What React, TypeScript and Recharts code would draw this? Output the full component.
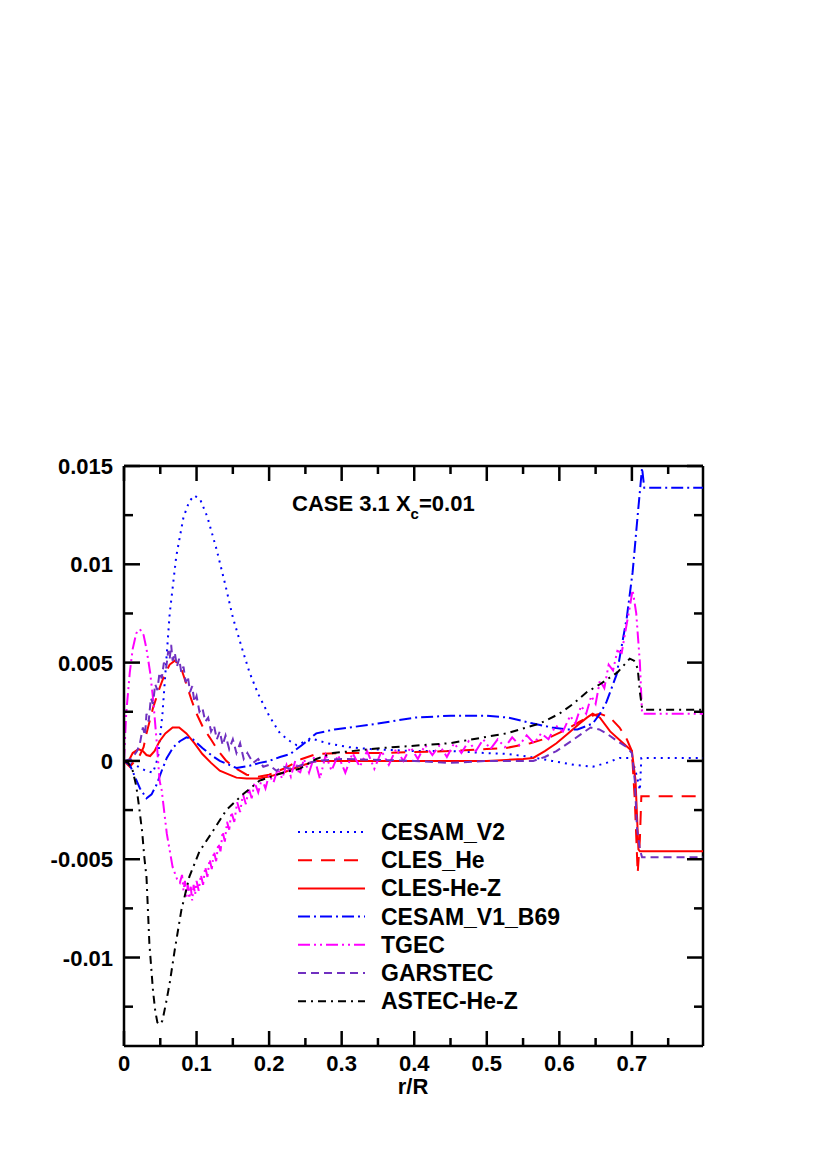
import React from "react";
import { LineChart, Line, XAxis, YAxis, ReferenceLine } from "recharts";

// r/R values for the ticks (minor every 0.05, labelled every 0.1)
const xTicks = [0, 0.05, 0.1, 0.15, 0.2, 0.25, 0.3, 0.35, 0.4, 0.45, 0.5, 0.55, 0.6, 0.65, 0.7, 0.75];
const xTickLabels = ["0", "", "0.1", "", "0.2", "", "0.3", "", "0.4", "", "0.5", "", "0.6", "", "0.7", ""];
const yTicks = [-0.0125, -0.01, -0.0075, -0.005, -0.0025, 0, 0.0025, 0.005, 0.0075, 0.01, 0.0125, 0.015];
const yTickLabels = ["", "-0.01", "", "-0.005", "", "0", "", "0.005", "", "0.01", "", "0.015"];

const X_MAX = 0.798;
const Y_MIN = -0.0145;
const Y_MAX = 0.015;

// series as [r/R, value]
const cesamV2 = [
  [0, 0], [0.015, -0.0002], [0.03, -0.0005], [0.04, -0.0006], [0.047, 0.0002], [0.053, 0.0024],
  [0.063, 0.0075], [0.072, 0.0104], [0.082, 0.0124], [0.09, 0.0132], [0.097, 0.0135], [0.105, 0.0133],
  [0.115, 0.0124], [0.128, 0.0107], [0.14, 0.0089], [0.15, 0.0073], [0.162, 0.0058], [0.173, 0.0045],
  [0.185, 0.0034], [0.2, 0.0023], [0.215, 0.0014], [0.229, 0.001], [0.238, 0.0008], [0.25, 0.001],
  [0.262, 0.0011], [0.28, 0.0009], [0.31, 0.0007], [0.34, 0.0006], [0.4, 0.0005], [0.45, 0.0005],
  [0.5, 0.0004], [0.53, 0.00035], [0.56, 0.0002], [0.59, 0.0], [0.62, -0.0002], [0.646, -0.0003],
  [0.665, -0.0001], [0.683, 0.00015], [0.7, 0.00015], [0.707, -0.0008], [0.711, -0.0015],
  [0.713, 0.00015], [0.798, 0.00015],
];

const clesHe = [
  [0, 0], [0.008, -0.0003], [0.015, 0.0], [0.022, 0.0003], [0.027, 0.0007], [0.031, 0.0014],
  [0.04, 0.0027], [0.049, 0.0037], [0.056, 0.0044], [0.063, 0.0049], [0.07, 0.0051], [0.078, 0.0048],
  [0.086, 0.0039], [0.093, 0.0031], [0.1, 0.0024], [0.109, 0.0017], [0.118, 0.0012], [0.13, 0.0005],
  [0.141, 0.0], [0.155, -0.0004], [0.169, -0.0007], [0.185, -0.0008], [0.2, -0.0007], [0.22, -0.0004],
  [0.245, 0.0001], [0.265, 0.00035], [0.3, 0.0004], [0.35, 0.0004], [0.45, 0.0005], [0.5, 0.0006],
  [0.527, 0.00066], [0.56, 0.0009], [0.587, 0.0012], [0.61, 0.0016], [0.628, 0.002], [0.645, 0.0023],
  [0.656, 0.0024], [0.67, 0.0022], [0.683, 0.0017], [0.693, 0.0011], [0.7, 0.0005], [0.704, -0.002],
  [0.708, -0.0057], [0.711, -0.004], [0.713, -0.0018], [0.798, -0.0018],
];

const clesHeZ = [
  [0, 0], [0.005, -0.0001], [0.012, 0.0004], [0.02, 0.0006], [0.026, 0.0005], [0.031, 0.0003],
  [0.036, 0.00025], [0.042, 0.0005], [0.049, 0.001], [0.057, 0.0014], [0.067, 0.0017], [0.076, 0.0017],
  [0.086, 0.0014], [0.097, 0.0009], [0.108, 0.00035], [0.12, -0.0001], [0.132, -0.0005], [0.145, -0.0007],
  [0.155, -0.00085], [0.169, -0.0009], [0.185, -0.0009], [0.2, -0.0008], [0.219, -0.0006], [0.24, -0.0003],
  [0.265, 0.0], [0.3, 0.0], [0.4, 0.0], [0.5, 0.0], [0.527, 0.00005], [0.55, 0.0001], [0.564, 0.00015],
  [0.58, 0.0005], [0.596, 0.0009], [0.612, 0.0014], [0.628, 0.0019], [0.638, 0.0022], [0.646, 0.0024],
  [0.656, 0.0022], [0.67, 0.0015], [0.685, 0.001], [0.7, 0.0005], [0.705, -0.001], [0.709, -0.0045],
  [0.711, -0.0046], [0.798, -0.0046],
];

const cesamV1B69 = [
  [0, 0], [0.008, -0.0002], [0.015, -0.0008], [0.022, -0.0014], [0.031, -0.0019], [0.038, -0.0017],
  [0.045, -0.0012], [0.052, -0.0005], [0.059, 0.00015], [0.068, 0.0007], [0.077, 0.001], [0.086, 0.0012],
  [0.095, 0.0011], [0.108, 0.00066], [0.12, 0.0003], [0.132, 0.0], [0.145, -0.0002], [0.155, -0.00036],
  [0.165, -0.0003], [0.173, -0.00025], [0.187, -0.0001], [0.2, 0.0], [0.215, 0.0002], [0.229, 0.00035],
  [0.245, 0.0008], [0.265, 0.0014], [0.29, 0.0016], [0.311, 0.0017], [0.35, 0.0019], [0.4, 0.0022],
  [0.45, 0.0023], [0.5, 0.0023], [0.53, 0.0022], [0.564, 0.0019], [0.59, 0.0017], [0.61, 0.0016],
  [0.625, 0.0016], [0.646, 0.0019], [0.656, 0.0024], [0.665, 0.003], [0.679, 0.0044], [0.693, 0.0073],
  [0.701, 0.0096], [0.708, 0.0125], [0.714, 0.0149], [0.717, 0.0139], [0.798, 0.0139],
];

const tgec = [
  [0, 0], [0.003, 0.0024], [0.008, 0.0045], [0.012, 0.0057], [0.017, 0.0065], [0.022, 0.0067],
  [0.027, 0.0064], [0.031, 0.0057], [0.036, 0.0045], [0.04, 0.0032], [0.045, 0.001], [0.049, -0.001],
  [0.052, -0.0015], [0.059, -0.0037], [0.067, -0.0054], [0.073, -0.006], [0.077, -0.0062],
  [0.08, -0.0058], [0.082, -0.0066], [0.084, -0.0061], [0.086, -0.0069], [0.088, -0.0063], [0.09, -0.007],
  [0.092, -0.0064], [0.094, -0.0071], [0.096, -0.0063], [0.098, -0.0068], [0.1, -0.0061], [0.103, -0.0066],
  [0.106, -0.0058], [0.109, -0.0063], [0.112, -0.0054], [0.115, -0.0059], [0.118, -0.005], [0.121, -0.0055],
  [0.124, -0.0046], [0.127, -0.0051], [0.13, -0.0042], [0.133, -0.0046], [0.136, -0.0036], [0.139, -0.0041],
  [0.142, -0.0031], [0.145, -0.0035], [0.148, -0.0026], [0.152, -0.0031], [0.156, -0.0021], [0.16, -0.0026],
  [0.164, -0.0017], [0.168, -0.0022], [0.172, -0.0014], [0.176, -0.0019], [0.18, -0.0011], [0.185, -0.0016],
  [0.19, -0.0009], [0.195, -0.0014], [0.2, -0.0007], [0.206, -0.0011], [0.212, -0.0004], [0.218, -0.0009],
  [0.224, -0.0002], [0.23, -0.0008], [0.236, 0.0], [0.242, -0.0007], [0.248, 0.0001], [0.255, -0.0006],
  [0.262, 0.0002], [0.27, -0.0009], [0.278, 0.0003], [0.286, -0.0005], [0.295, 0.0003], [0.305, -0.0006],
  [0.315, 0.0004], [0.325, -0.0003], [0.335, 0.0005], [0.345, -0.0004], [0.355, 0.0005], [0.365, -0.0002],
  [0.375, 0.0006], [0.385, 0.0], [0.395, 0.0007], [0.405, 0.0001], [0.415, 0.0008], [0.425, 0.0003],
  [0.435, 0.0008], [0.445, 0.0002], [0.455, 0.0009], [0.465, 0.0004], [0.475, 0.001], [0.485, 0.0005],
  [0.495, 0.0011], [0.505, 0.0006], [0.515, 0.0011], [0.525, 0.0007], [0.535, 0.0012], [0.545, 0.0008],
  [0.555, 0.0013], [0.565, 0.0009], [0.575, 0.0014], [0.585, 0.0011], [0.595, 0.0018], [0.605, 0.0015],
  [0.615, 0.0023], [0.622, 0.0019], [0.63, 0.0028], [0.637, 0.0024], [0.644, 0.0033], [0.65, 0.0029],
  [0.656, 0.0041], [0.662, 0.0037], [0.668, 0.0049], [0.674, 0.0046], [0.68, 0.0056], [0.686, 0.0055],
  [0.692, 0.0068], [0.697, 0.0078], [0.701, 0.0087], [0.706, 0.0075], [0.711, 0.005], [0.714, 0.0024],
  [0.798, 0.0024],
];

const garstec = [
  [0, 0], [0.01, 0.0001], [0.018, 0.0005], [0.022, 0.0009], [0.026, 0.0017], [0.029, 0.0013],
  [0.031, 0.0024], [0.034, 0.002], [0.037, 0.0032], [0.04, 0.0029], [0.043, 0.0039], [0.046, 0.0036],
  [0.049, 0.0045], [0.052, 0.0042], [0.055, 0.005], [0.058, 0.0047], [0.061, 0.0056], [0.063, 0.0052],
  [0.065, 0.0059], [0.067, 0.0051], [0.07, 0.0055], [0.073, 0.0048], [0.076, 0.0052], [0.079, 0.0045],
  [0.082, 0.0048], [0.085, 0.004], [0.088, 0.0043], [0.091, 0.0035], [0.094, 0.0038], [0.097, 0.003],
  [0.1, 0.0033], [0.104, 0.0025], [0.108, 0.0027], [0.112, 0.002], [0.116, 0.0022], [0.12, 0.0015],
  [0.124, 0.0018], [0.128, 0.0011], [0.132, 0.0015], [0.136, 0.0008], [0.14, 0.0013], [0.145, 0.0006],
  [0.15, 0.0011], [0.155, 0.0004], [0.16, 0.0009], [0.165, 0.0001], [0.17, 0.0004], [0.178, -0.0001],
  [0.185, 0.0001], [0.192, -0.0003], [0.2, -0.0002], [0.21, -0.0005], [0.22, -0.0003], [0.229, -0.0004],
  [0.245, -0.0002], [0.265, 0.0], [0.3, 0.0001], [0.4, 0.0], [0.45, -0.0001], [0.5, 0.0], [0.564, 0.0],
  [0.58, 0.0002], [0.596, 0.0005], [0.62, 0.0011], [0.643, 0.0017], [0.655, 0.0016], [0.665, 0.0014],
  [0.68, 0.001], [0.693, 0.0007], [0.7, 0.0004], [0.704, -0.001], [0.707, -0.0034], [0.711, -0.0045],
  [0.714, -0.0049], [0.798, -0.0049],
];

const astecHeZ = [
  [0, 0], [0.006, -0.0001], [0.012, -0.0005], [0.017, -0.0013], [0.021, -0.0024], [0.025, -0.0036],
  [0.028, -0.0049], [0.031, -0.0059], [0.035, -0.0093], [0.04, -0.0117], [0.043, -0.0127], [0.046, -0.0133],
  [0.05, -0.0134], [0.053, -0.0132], [0.058, -0.0123], [0.063, -0.0113], [0.07, -0.0096], [0.079, -0.0076],
  [0.09, -0.0059], [0.104, -0.0046], [0.122, -0.0036], [0.141, -0.0025], [0.164, -0.0017], [0.187, -0.001],
  [0.219, -0.0006], [0.242, -0.0004], [0.265, 0.0001], [0.288, 0.0004], [0.357, 0.00066], [0.449, 0.0009],
  [0.527, 0.0014], [0.573, 0.0019], [0.6, 0.0024], [0.619, 0.0029], [0.638, 0.0035], [0.656, 0.0039],
  [0.68, 0.0045], [0.697, 0.0052], [0.703, 0.0051], [0.708, 0.0047], [0.711, 0.0035], [0.714, 0.0027],
  [0.718, 0.0026], [0.798, 0.0026],
];

const toPoints = (rows: number[][]) => rows.map(([x, y]) => ({ x, y }));

const series = [
  { name: "CESAM_V2", rows: cesamV2, color: "#0000ff", dash: "2 5" },
  { name: "CLES_He", rows: clesHe, color: "#ff0000", dash: "14 9" },
  { name: "CLES-He-Z", rows: clesHeZ, color: "#ff0000", dash: undefined },
  { name: "CESAM_V1_B69", rows: cesamV1B69, color: "#0000ff", dash: "12 4 2 4" },
  { name: "TGEC", rows: tgec, color: "#ff00ff", dash: "12 4 2 4 2 4" },
  { name: "GARSTEC", rows: garstec, color: "#7030c0", dash: "8 5" },
  { name: "ASTEC-He-Z", rows: astecHeZ, color: "#000000", dash: "8 5 2 5" },
];

// layout (chart is offset by the 8px body margin)
const W = 810;
const H = 1140;
const PLOT_LEFT = 116;
const PLOT_TOP = 458;
const PLOT_RIGHT = 695;
const FONT = "'Liberation Sans', Arial, Helvetica, sans-serif";

const XTick = (props: any) => {
  const { x, y, index } = props;
  const label = xTickLabels[index];
  const len = label ? 15 : 8;
  return (
    <g>
      <line x1={x} y1={y} x2={x} y2={y - len} stroke="#000" strokeWidth={2.5} />
      <line x1={x} y1={PLOT_TOP} x2={x} y2={PLOT_TOP + len} stroke="#000" strokeWidth={2.5} />
      {label && (
        <text x={x} y={y + 25} textAnchor="middle" fontSize={22} fontWeight="bold" fontFamily={FONT} fill="#000">
          {label}
        </text>
      )}
    </g>
  );
};

const YTick = (props: any) => {
  const { x, y, index } = props;
  const label = yTickLabels[index];
  const len = label ? 16 : 9;
  return (
    <g>
      <line x1={x} y1={y} x2={x + len} y2={y} stroke="#000" strokeWidth={2.5} />
      <line x1={PLOT_RIGHT - len} y1={y} x2={PLOT_RIGHT} y2={y} stroke="#000" strokeWidth={2.5} />
      {label && (
        <text x={x - 11} y={y + 8} textAnchor="end" fontSize={22} fontWeight="bold" fontFamily={FONT} fill="#000">
          {label}
        </text>
      )}
    </g>
  );
};

const Legend = () => (
  <svg width={W} height={H} style={{ position: "absolute", left: 0, top: 0, pointerEvents: "none" }}>
    <text x={284} y={503} fontSize={22} fontWeight="bold" fontFamily={FONT} fill="#000">
      CASE 3.1 X
      <tspan fontSize={15} dy={8}>c</tspan>
      <tspan dy={-8}>=0.01</tspan>
    </text>
    {series.map((s, i) => {
      const cy = 824 + i * 28.2;
      return (
        <g key={s.name}>
          <line x1={290} y1={cy} x2={357} y2={cy} stroke={s.color} strokeWidth={2} strokeDasharray={s.dash} />
          <text x={373} y={cy + 8} fontSize={23} fontWeight="bold" fontFamily={FONT} fill="#000">
            {s.name}
          </text>
        </g>
      );
    })}
    <text x={405} y={1086} textAnchor="middle" fontSize={22} fontWeight="bold" fontFamily={FONT} fill="#000">
      r/R
    </text>
  </svg>
);

export default function App() {
  return (
    <div style={{ position: "relative", width: W, height: H }}>
      <LineChart
        width={W}
        height={H}
        margin={{ top: PLOT_TOP, right: W - PLOT_RIGHT, bottom: 42, left: 0 }}
      >
        <XAxis
          type="number"
          dataKey="x"
          domain={[0, X_MAX]}
          ticks={xTicks}
          interval={0}
          allowDataOverflow
          height={60}
          tickSize={0}
          tickMargin={0}
          tick={<XTick />}
          axisLine={{ stroke: "#000", strokeWidth: 2.5 }}
        />
        <YAxis
          type="number"
          dataKey="y"
          domain={[Y_MIN, Y_MAX]}
          ticks={yTicks}
          interval={0}
          allowDataOverflow
          width={PLOT_LEFT}
          tickSize={0}
          tickMargin={0}
          tick={<YTick />}
          axisLine={{ stroke: "#000", strokeWidth: 2.5 }}
        />
        <ReferenceLine y={Y_MAX} stroke="#000" strokeWidth={2.5} />
        <ReferenceLine x={X_MAX} stroke="#000" strokeWidth={2.5} />
        {series.map((s) => (
          <Line
            key={s.name}
            data={toPoints(s.rows)}
            dataKey="y"
            name={s.name}
            type="linear"
            stroke={s.color}
            strokeWidth={2}
            strokeDasharray={s.dash}
            dot={false}
            isAnimationActive={false}
          />
        ))}
      </LineChart>
      <Legend />
    </div>
  );
}
